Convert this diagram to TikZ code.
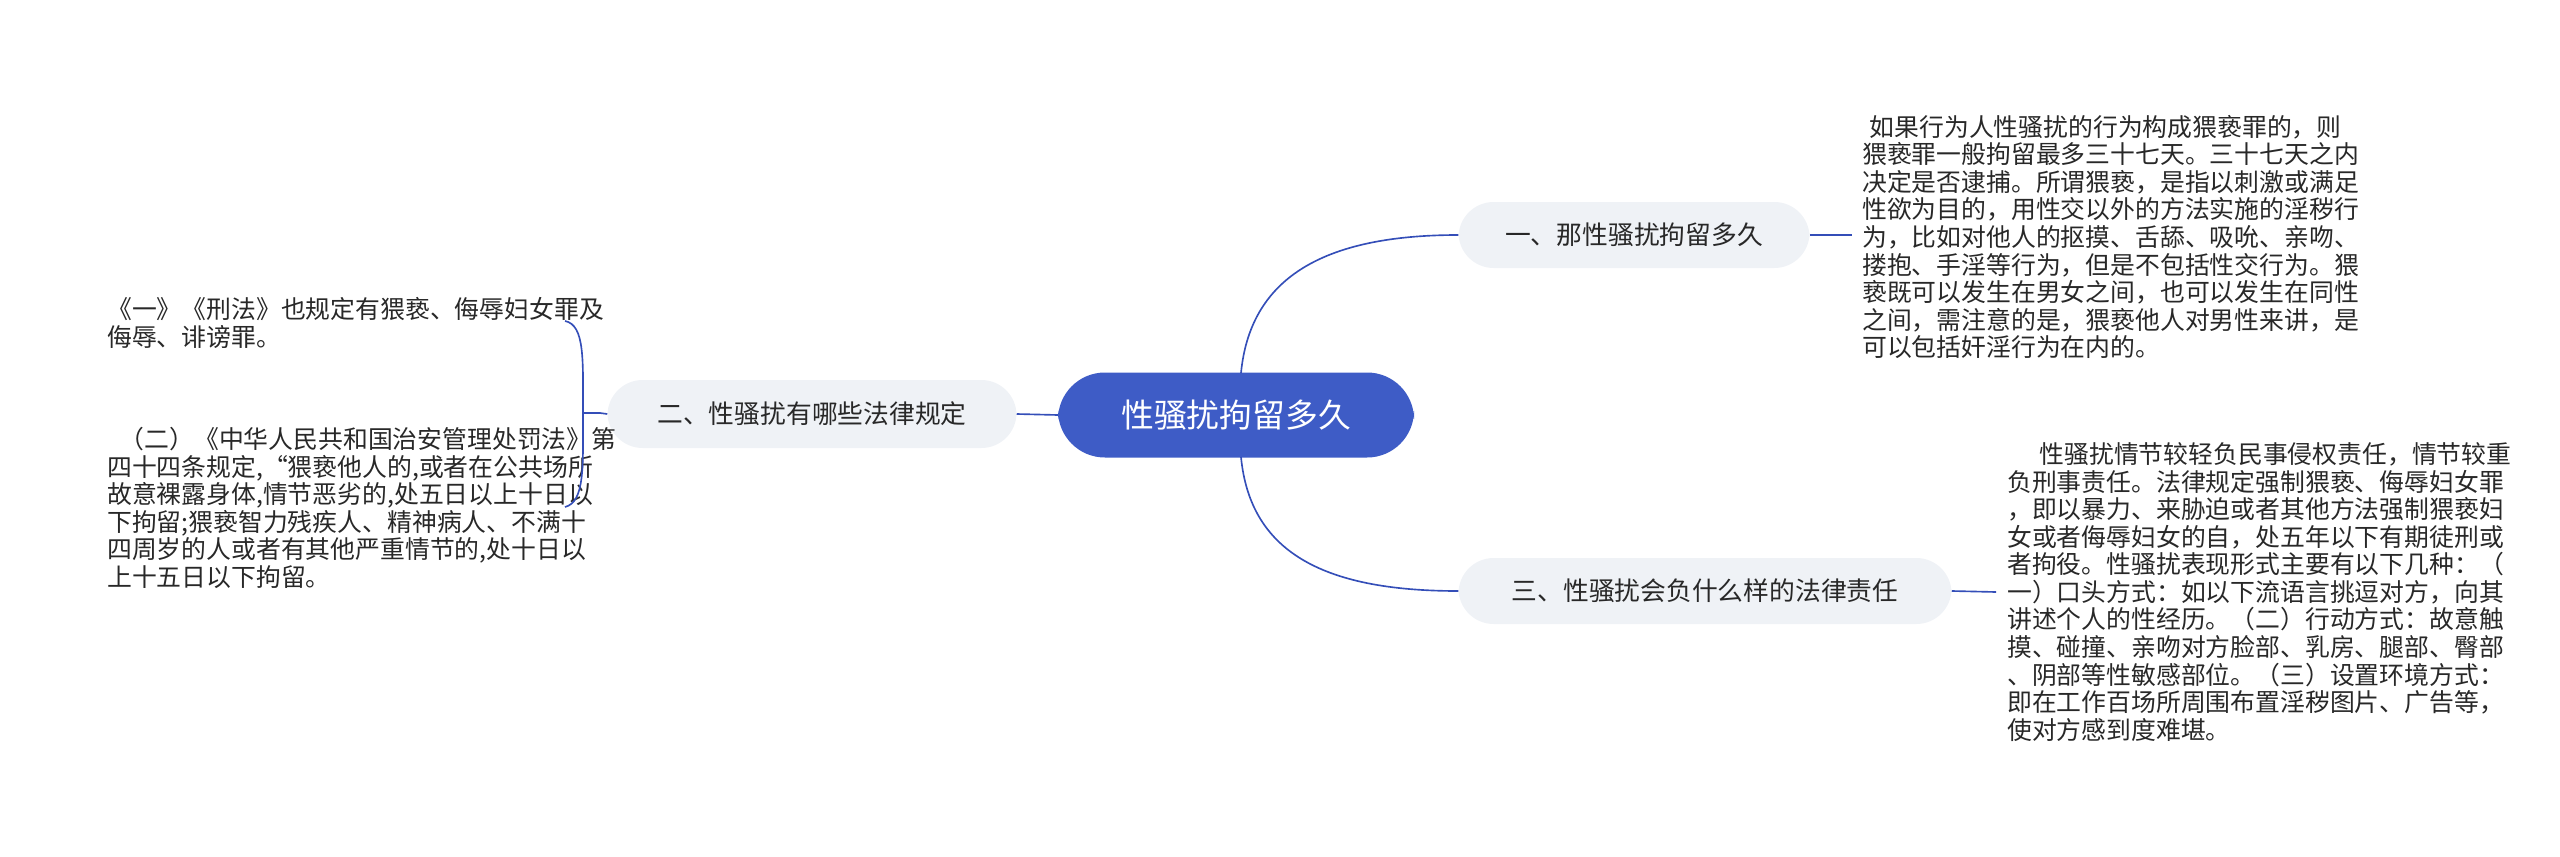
\documentclass[tikz,border=0pt]{standalone}
\usepackage{fontspec}
\setmainfont{Noto Sans CJK SC}
\begin{document}
\definecolor{cblue}{RGB}{62,92,198}
\definecolor{lblue}{RGB}{52,78,184}
\definecolor{gfill}{RGB}{239,242,246}
\definecolor{tcol}{RGB}{40,40,40}
\begin{tikzpicture}[x=0.3mm,y=-0.3mm,
  branch/.style={fill=gfill,rounded corners=30,inner sep=0pt,text=tcol,font=\fontsize{22}{26}\selectfont},
  body/.style={align=left,text=tcol,inner sep=0pt,font=\fontsize{21.2}{23.5}\selectfont},
  conn/.style={draw=lblue,line width=1.4pt}]
\useasboundingbox (0,0) rectangle (2560,857);
\node[fill=cblue,rounded corners=40,minimum width=356*0.3mm,minimum height=85*0.3mm,text=white,font=\fontsize{28}{32}\selectfont,inner sep=0pt] (c) at (1236,415) {性骚扰拘留多久};
\node[branch,minimum width=351*0.3mm,minimum height=66*0.3mm] (b1) at (1634,235) {一、那性骚扰拘留多久};
\node[branch,minimum width=409*0.3mm,minimum height=68*0.3mm] (b2) at (812,414) {二、性骚扰有哪些法律规定};
\node[branch,minimum width=493*0.3mm,minimum height=66*0.3mm] (b3) at (1705,591) {三、性骚扰会负什么样的法律责任};
\node[body,anchor=west] (t1) at (1862,237) {\hspace{0.3em}如果行为人性骚扰的行为构成猥亵罪的，则\\猥亵罪一般拘留最多三十七天。三十七天之内\\决定是否逮捕。所谓猥亵，是指以刺激或满足\\性欲为目的，用性交以外的方法实施的淫秽行\\为，比如对他人的抠摸、舌舔、吸吮、亲吻、\\搂抱、手淫等行为，但是不包括性交行为。猥\\亵既可以发生在男女之间，也可以发生在同性\\之间，需注意的是，猥亵他人对男性来讲，是\\可以包括奸淫行为在内的。};
\node[body,anchor=west] (t3) at (2007,592) {\hspace{1.3em}性骚扰情节较轻负民事侵权责任，情节较重\\负刑事责任。法律规定强制猥亵、侮辱妇女罪\\，即以暴力、来胁迫或者其他方法强制猥亵妇\\女或者侮辱妇女的自，处五年以下有期徒刑或\\者拘役。性骚扰表现形式主要有以下几种：（\\一）口头方式：如以下流语言挑逗对方，向其\\讲述个人的性经历。（二）行动方式：故意触\\摸、碰撞、亲吻对方脸部、乳房、腿部、臀部\\、阴部等性敏感部位。（三）设置环境方式：\\即在工作百场所周围布置淫秽图片、广告等，\\使对方感到度难堪。};
\node[body,anchor=west] (la) at (107,323) {《一》《刑法》也规定有猥亵、侮辱妇女罪及\\侮辱、诽谤罪。};
\node[body,anchor=west] (lb) at (107,508) {\hspace{0.5em}（二）《中华人民共和国治安管理处罚法》第\\四十四条规定,“猥亵他人的,或者在公共场所\\故意裸露身体,情节恶劣的,处五日以上十日以\\下拘留;猥亵智力残疾人、精神病人、不满十\\四周岁的人或者有其他严重情节的,处十日以\\上十五日以下拘留。};
\coordinate (ct) at (1241,373);
\coordinate (cb) at (1241,457);
\draw[conn] (ct) .. controls (1250,280) and (1320,235) .. (b1.west);
\draw[conn] (cb) .. controls (1250,550) and (1320,591) .. (b3.west);
\draw[conn] (c.west) -- (b2.east);
\coordinate (e1) at (1852,235);
\draw[conn] (b1.east) -- (e1);
\coordinate (e3) at (1996,592);
\draw[conn] (b3.east) -- (e3);
\coordinate (bm) at (600,413);
\draw[conn] (b2.west) -- (bm);
\coordinate (bt) at (565,321);
\coordinate (bb) at (565,507);
\draw[conn] (bt) .. controls (585,325) and (583,360) .. (583,413) .. controls (583,466) and (585,502) .. (bb);
\draw[conn] (583,413) -- (bm);
\end{tikzpicture}
\end{document}
